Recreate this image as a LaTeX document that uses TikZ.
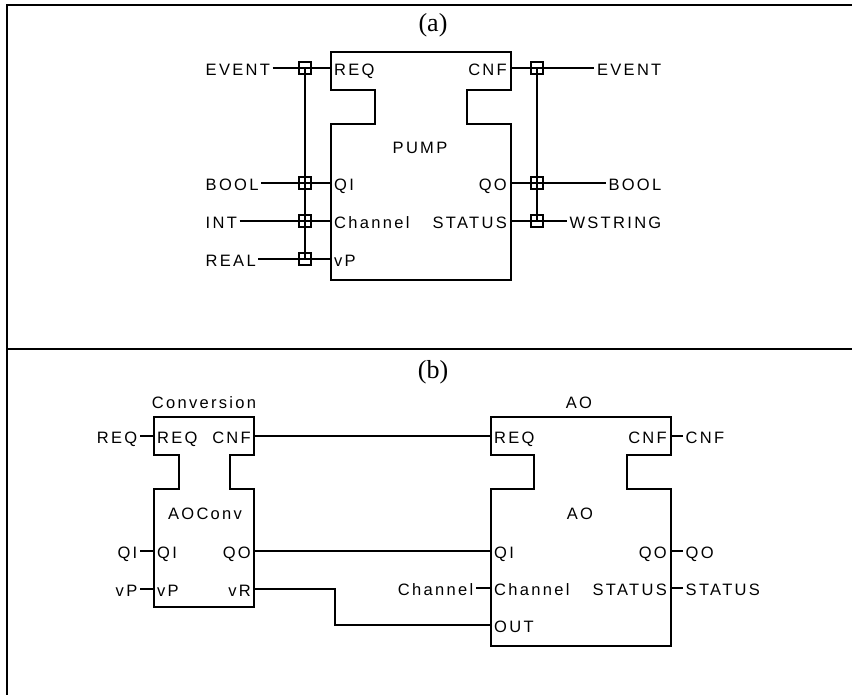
\documentclass[tikz,border=0pt]{standalone}
\usepackage{fontspec}
\setmainfont{Liberation Serif}
\newfontfamily\pixfont{Liberation Sans}[LetterSpace=14]
\begin{document}
\begin{tikzpicture}[x=1pt,y=-1pt,
  frameline/.style={line width=2pt,black},
  blockline/.style={line width=1.5pt,black,line join=miter},
  wire/.style={line width=1.5pt,black},
  pix/.style={font=\pixfont\fontsize{16.5}{18}\selectfont,inner sep=0pt,text height=11.8pt,text depth=0pt},
  lbl/.style={pix,inner xsep=2.5pt},
  junc/.style={draw,line width=1.4pt,rectangle,minimum size=12pt,inner sep=0pt},
  captext/.style={font=\fontsize{26}{28}\selectfont,inner sep=0pt}]
\useasboundingbox (0,0) rectangle (852,695);
% frame
\draw[frameline] (7,695) -- (7,5) -- (852,5);
\draw[frameline] (7,349) -- (852,349);
\node[captext] (capa) at (433,25) {(a)};
\node[captext] (capb) at (433,372) {(b)};

% ---------------- (a) PUMP ----------------
\draw[blockline] (331,52) -- (511,52) -- (511,90) -- (467,90) -- (467,124) -- (511,124) -- (511,280)
  -- (331,280) -- (331,124) -- (375,124) -- (375,90) -- (331,90) -- cycle;
\node[pix] (pumpname) at (420,148) {PUMP};
\node[pix,anchor=west] (p-req) at (334,70) {REQ};
\node[pix,anchor=west] (p-qi) at (334,185) {QI};
\node[pix,anchor=west] (p-ch) at (334,223) {Channel};
\node[pix,anchor=west] (p-vp) at (334,261) {vP};
\node[pix,anchor=east] (p-cnf) at (507,70) {CNF};
\node[pix,anchor=east] (p-qo) at (507,185) {QO};
\node[pix,anchor=east] (p-st) at (507,223) {STATUS};
\coordinate (pin-req) at (331,68);
\coordinate (pin-qi) at (331,183);
\coordinate (pin-ch) at (331,221);
\coordinate (pin-vp) at (331,259);
\coordinate (pout-cnf) at (511,68);
\coordinate (pout-qo) at (511,183);
\coordinate (pout-st) at (511,221);
% left type labels
\node[lbl,anchor=west] (t-ev1) at (203,70) {EVENT};
\node[lbl,anchor=west] (t-bool1) at (203,185) {BOOL};
\node[lbl,anchor=west] (t-int) at (203,223) {INT};
\node[lbl,anchor=west] (t-real) at (203,261) {REAL};
% right type labels
\node[lbl,anchor=east] (t-ev2) at (664,70) {EVENT};
\node[lbl,anchor=east] (t-bool2) at (664,185) {BOOL};
\node[lbl,anchor=east] (t-ws) at (664,223) {WSTRING};
% junctions
\node[junc] (jl1) at (305,68) {};
\node[junc] (jl2) at (305,183) {};
\node[junc] (jl3) at (305,221) {};
\node[junc] (jl4) at (305,259) {};
\node[junc] (jr1) at (537,68) {};
\node[junc] (jr2) at (537,183) {};
\node[junc] (jr3) at (537,221) {};
% buses
\draw[wire] (jl1.center) -- (jl4.center);
\draw[wire] (jr1.center) -- (jr3.center);
% wires
\draw[wire] (t-ev1.east |- pin-req) -- (pin-req);
\draw[wire] (t-bool1.east |- pin-qi) -- (pin-qi);
\draw[wire] (t-int.east |- pin-ch) -- (pin-ch);
\draw[wire] (t-real.east |- pin-vp) -- (pin-vp);
\draw[wire] (pout-cnf) -- (t-ev2.west |- pout-cnf);
\draw[wire] (pout-qo) -- (t-bool2.west |- pout-qo);
\draw[wire] (pout-st) -- (t-ws.west |- pout-st);

% ---------------- (b) Conversion ----------------
\draw[blockline] (154,417) -- (254,417) -- (254,455) -- (230,455) -- (230,489) -- (254,489) -- (254,607)
  -- (154,607) -- (154,489) -- (179,489) -- (179,455) -- (154,455) -- cycle;
\node[pix] (convtitle) at (204,403) {Conversion};
\node[pix] (convname) at (205,514) {AOConv};
\node[pix,anchor=west] (c-req) at (157,438) {REQ};
\node[pix,anchor=west] (c-qi) at (157,553) {QI};
\node[pix,anchor=west] (c-vp) at (157,591) {vP};
\node[pix,anchor=east] (c-cnf) at (251,438) {CNF};
\node[pix,anchor=east] (c-qo) at (251,553) {QO};
\node[pix,anchor=east] (c-vr) at (251,591) {vR};
\coordinate (cin-req) at (154,436);
\coordinate (cin-qi) at (154,551);
\coordinate (cin-vp) at (154,589);
\coordinate (cout-cnf) at (254,436);
\coordinate (cout-qo) at (254,551);
\coordinate (cout-vr) at (254,589);
\node[lbl,anchor=east] (e-req) at (140,438) {REQ};
\node[lbl,anchor=east] (e-qi) at (140,553) {QI};
\node[lbl,anchor=east] (e-vp) at (140,591) {vP};
\draw[wire] (e-req.east |- cin-req) -- (cin-req);
\draw[wire] (e-qi.east |- cin-qi) -- (cin-qi);
\draw[wire] (e-vp.east |- cin-vp) -- (cin-vp);

% ---------------- (b) AO ----------------
\draw[blockline] (491,417) -- (671,417) -- (671,455) -- (627,455) -- (627,489) -- (671,489) -- (671,646)
  -- (491,646) -- (491,489) -- (534,489) -- (534,455) -- (491,455) -- cycle;
\node[pix] (aotitle) at (579,403) {AO};
\node[pix] (aoname) at (580,514) {AO};
\node[pix,anchor=west] (a-req) at (494,438) {REQ};
\node[pix,anchor=west] (a-qi) at (494,553) {QI};
\node[pix,anchor=west] (a-ch) at (494,590) {Channel};
\node[pix,anchor=west] (a-out) at (494,627) {OUT};
\node[pix,anchor=east] (a-cnf) at (667,438) {CNF};
\node[pix,anchor=east] (a-qo) at (667,553) {QO};
\node[pix,anchor=east] (a-st) at (667,590) {STATUS};
\coordinate (ain-req) at (491,436);
\coordinate (ain-qi) at (491,551);
\coordinate (ain-ch) at (491,588);
\coordinate (ain-out) at (491,625);
\coordinate (aout-cnf) at (671,436);
\coordinate (aout-qo) at (671,551);
\coordinate (aout-st) at (671,588);
\node[lbl,anchor=east] (e-ch) at (476,590) {Channel};
\node[lbl,anchor=west] (e-cnf) at (683,438) {CNF};
\node[lbl,anchor=west] (e-qo) at (683,553) {QO};
\node[lbl,anchor=west] (e-st) at (683,590) {STATUS};
\draw[wire] (e-ch.east |- ain-ch) -- (ain-ch);
\draw[wire] (aout-cnf) -- (e-cnf.west |- aout-cnf);
\draw[wire] (aout-qo) -- (e-qo.west |- aout-qo);
\draw[wire] (aout-st) -- (e-st.west |- aout-st);

% connections between blocks
\draw[wire] (cout-cnf) -- (ain-req);
\draw[wire] (cout-qo) -- (ain-qi);
\draw[wire,line join=miter] (cout-vr) -- (335,589) -- (335,625) -- (ain-out);
\end{tikzpicture}
\end{document}
